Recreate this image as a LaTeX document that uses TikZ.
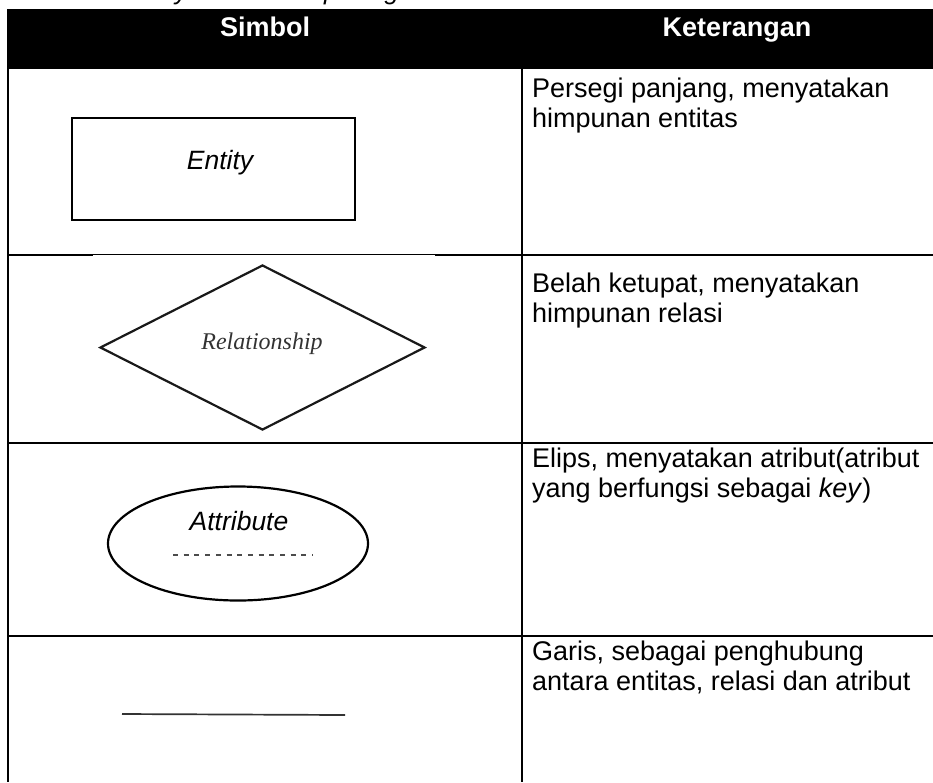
\documentclass[tikz,border=0pt]{standalone}
\usepackage{fontspec}
\setmainfont{Liberation Sans}
\newfontfamily\relfont{Liberation Serif}
\usetikzlibrary{shapes.geometric}
\begin{document}
\begin{tikzpicture}[x=1pt,y=-1pt,
  rule/.style={line width=2.4pt,black},
  shp/.style={line width=2.2pt,black},
  body/.style={anchor=base west,inner sep=0pt,font=\fontsize{27}{30}\selectfont},
  head/.style={anchor=base,inner sep=0pt,text=white,font=\fontsize{27}{30}\selectfont\bfseries},
  symtext/.style={anchor=base,inner sep=0pt,font=\fontsize{26.5}{30}\selectfont\itshape},
]
\useasboundingbox (0,0) rectangle (933,782);
\clip (0,0) rectangle (933,782);

% caption fragment (cut off at the top)
\node[anchor=base west,inner sep=0pt,font=\fontsize{26}{30}\selectfont\itshape] (cap) at (123,-1) {Entity Relationship Diagram};

% header
\fill[black] (7,9) rectangle (933,69);
\node[head] (h1) at (265,36) {Simbol};
\node[head] (h2) at (737,36) {Keterangan};

% table rules
\draw[rule] (8,69) -- (8,782);
\draw[rule] (522,69) -- (522,782);
\draw[rule] (7,255) -- (93,255);
\draw[line width=1.5pt] (93,254.6) -- (435,254.6);
\draw[rule] (435,255) -- (933,255);
\draw[rule] (7,443) -- (933,443);
\draw[rule] (7,636) -- (933,636);

% row 1: entity
\node[shp,draw,rectangle,minimum width=283pt,minimum height=102pt,inner sep=0pt] (ent) at (213.5,169) {};
\node[symtext] (entt) at (220,169) {Entity};

% row 2: relationship
\node[shp,draw=black!90,diamond,minimum width=325pt,minimum height=165pt,inner sep=0pt] (rel) at (262.5,347.5) {};
\node[anchor=base,inner sep=0pt,text=black!80,font=\fontsize{24}{27}\relfont\itshape] (relt) at (262,349) {Relationship};

% row 3: attribute
\node[shp,draw,ellipse,minimum width=260pt,minimum height=114pt,inner sep=0pt] (att) at (238,543.5) {};
\node[symtext] (attt) at (239,530) {Attribute};
\coordinate (d1) at (173,555);
\coordinate (d2) at (313,555);
\draw[line width=1.6pt,black!70,dash pattern=on 5pt off 5.7pt] (d1) -- (d2);

% row 4: line
\coordinate (l1) at (122,714);
\coordinate (l2) at (345,715);
\draw[line width=1.7pt,black!80] (l1) -- (l2);

% descriptions
\node[body] (r1a) at (532,97) {Persegi panjang, menyatakan};
\node[body] (r1b) at (532,127) {himpunan entitas};
\node[body] (r2a) at (532,292) {Belah ketupat, menyatakan};
\node[body] (r2b) at (532,322) {himpunan relasi};
\node[body] (r3a) at (532,467) {Elips, menyatakan atribut(atribut};
\node[body] (r3b) at (532,497) {yang berfungsi sebagai \textit{key})};
\node[body] (r4a) at (532,660) {Garis, sebagai penghubung};
\node[body] (r4b) at (532,690) {antara entitas, relasi dan atribut};
\end{tikzpicture}
\end{document}
